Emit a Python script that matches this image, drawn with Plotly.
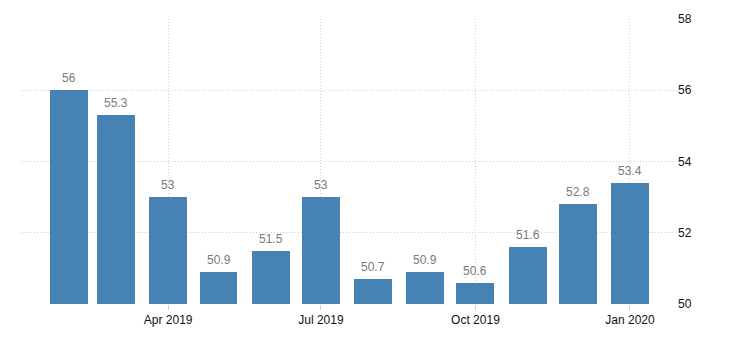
import plotly.graph_objects as go

months = ["2019-02-01", "2019-03-01", "2019-04-01", "2019-05-01", "2019-06-01", "2019-07-01",
          "2019-08-01", "2019-09-01", "2019-10-01", "2019-11-01", "2019-12-01", "2020-01-01"]
values = [56, 55.3, 53, 50.9, 51.5, 53, 50.7, 50.9, 50.6, 51.6, 52.8, 53.4]
labels = ["56", "55.3", "53", "50.9", "51.5", "53", "50.7", "50.9", "50.6", "51.6", "52.8", "53.4"]
x_ticks = ["2019-04-01", "2019-07-01", "2019-10-01", "2020-01-01"]
x_ticklabels = ["Apr 2019", "Jul 2019", "Oct 2019", "Jan 2020"]
y_ticks = [50, 52, 54, 56, 58]

DAY_MS = 86400000

fig = go.Figure()
fig.add_trace(go.Bar(
    x=months, y=values,
    width=[22.6 * DAY_MS] * len(months),
    marker=dict(color="#4682B4", line=dict(width=0)),
    hoverinfo="x+y",
))

for m, v, t in zip(months, values, labels):
    fig.add_annotation(x=m, y=v, text=t, showarrow=False, yanchor="bottom",
                       yshift=3, font=dict(family="Liberation Sans, Arial", size=12, color="#7a7a7a"))

fig.update_layout(
    width=730, height=340,
    margin=dict(l=22, r=53, t=19, b=36),
    paper_bgcolor="white", plot_bgcolor="white",
    showlegend=False,
    font=dict(family="Liberation Sans, Arial", size=12, color="#111"),
    bargap=0,
)
fig.update_xaxes(
    type="date",
    range=["2019-01-04", "2020-01-29"],
    tickvals=x_ticks, ticktext=x_ticklabels,
    showgrid=True, gridcolor="#cccccc", griddash="1px,2px", gridwidth=1,
    ticks="outside", ticklen=5, tickcolor="#cccccc",
    showline=False, zeroline=False,
    tickfont=dict(size=12, color="#111"),
)
fig.update_yaxes(
    range=[50, 58], side="right",
    tickvals=y_ticks,
    showgrid=True, gridcolor="#cccccc", griddash="1px,2px", gridwidth=1,
    ticks="", showline=False, zeroline=False,
    tickfont=dict(size=12, color="#111"),
)

fig.write_html("out.html")
